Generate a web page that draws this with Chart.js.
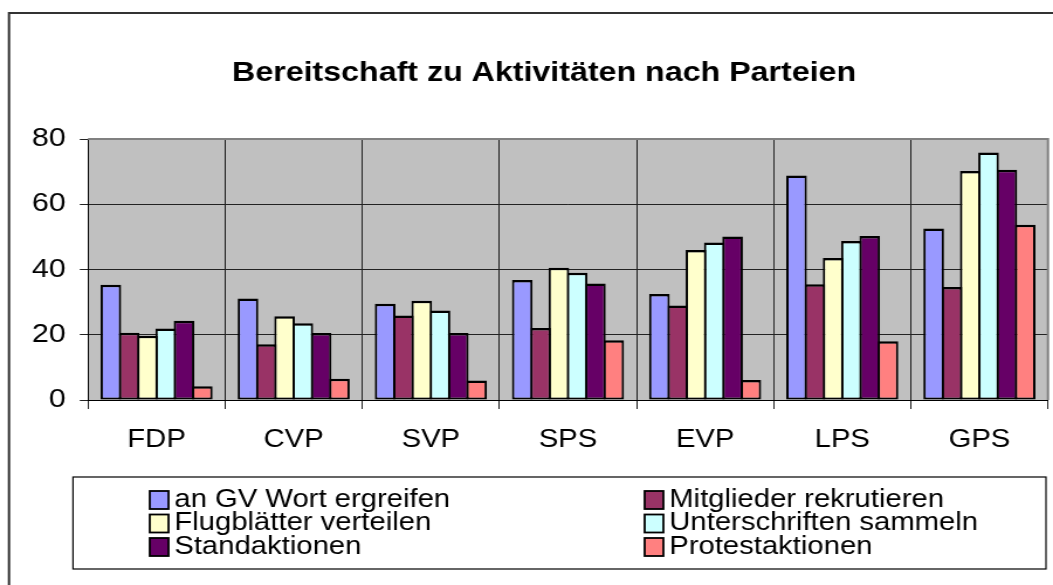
<!DOCTYPE html>
<html>
<head>
<meta charset="utf-8">
<script src="https://cdn.jsdelivr.net/npm/chart.js"></script>
<style>
  html, body { margin: 0; padding: 0; background: #fff; overflow: hidden; }
</style>
</head>
<body>
<!-- the original picture is stretched sideways, so the canvas is drawn 900 wide and widened to 1053 -->
<canvas id="chart" width="900" height="585" style="width:1053px;height:585px;display:block"></canvas>
<script>
const titel = 'Bereitschaft zu Aktivitäten nach Parteien';
const parteien = ['FDP', 'CVP', 'SVP', 'SPS', 'EVP', 'LPS', 'GPS'];

const wortErgreifen = [35.3, 31.1, 29.5, 36.8, 32.5, 68.8, 52.6];
const mitgliederRekrutieren = [20.6, 17.1, 25.9, 22.1, 29.0, 35.5, 34.6];
const flugblaetterVerteilen = [19.7, 25.7, 30.4, 40.5, 46.0, 43.5, 70.2];
const unterschriftenSammeln = [21.9, 23.5, 27.4, 39.0, 48.3, 48.7, 75.9];
const standaktionen = [24.3, 20.5, 20.5, 35.7, 50.1, 50.3, 70.6];
const protestaktionen = [4.2, 6.5, 6.0, 18.3, 6.1, 18.0, 53.7];

const yTicks = [0, 20, 40, 60, 80];

const font = 'Liberation Sans, Arial, sans-serif';

function serie(label, data, color) {
    return {
        label: label,
        data: data,
        backgroundColor: color,
        borderColor: '#000',
        borderWidth: {top: 2.5, bottom: 2, left: 2, right: 2},
        borderSkipped: false,
        categoryPercentage: 0.8,
        barPercentage: 1.128
    };
}

// grauer Hintergrund, Rahmen, Titel und Legende im Excel-Stil
const excelLook = {
    id: 'excelLook',
    beforeDraw(chart) {
        const ctx = chart.ctx;
        const a = chart.chartArea;
        ctx.save();
        ctx.fillStyle = '#fff';
        ctx.fillRect(0, 0, chart.width, chart.height);
        ctx.strokeStyle = '#333';
        ctx.lineWidth = 2;
        ctx.strokeRect(7.7, 13, 1000, 1000);
        ctx.fillStyle = '#C0C0C0';
        ctx.fillRect(a.left, a.top, a.right - a.left, a.bottom - a.top);
        ctx.restore();
    },
    afterDatasetsDraw(chart) {
        const ctx = chart.ctx;
        const a = chart.chartArea;
        ctx.save();
        ctx.strokeStyle = '#808080';
        ctx.lineWidth = 2;
        ctx.beginPath();
        ctx.moveTo(a.left, a.top);
        ctx.lineTo(a.right, a.top);
        ctx.lineTo(a.right, a.bottom);
        ctx.stroke();
        ctx.restore();
    },
    afterDraw(chart) {
        const ctx = chart.ctx;
        ctx.save();
        // Titel
        ctx.fillStyle = '#000';
        ctx.font = 'bold 27.5px ' + font;
        ctx.textAlign = 'center';
        ctx.textBaseline = 'middle';
        ctx.fillText(titel, 465, 73);
        // Legende
        ctx.strokeStyle = '#000';
        ctx.lineWidth = 1.2;
        ctx.strokeRect(62.4, 477, 831.6, 92);
        ctx.font = '25px ' + font;
        ctx.textAlign = 'left';
        chart.data.datasets.forEach((ds, i) => {
            const col = i % 2;
            const row = Math.floor(i / 2);
            const bx = col === 0 ? 128 : 551;
            const y = 500 + row * 23.5;
            ctx.fillStyle = ds.backgroundColor;
            ctx.fillRect(bx, y - 9, 16, 18);
            ctx.lineWidth = 1.8;
            ctx.strokeRect(bx, y - 9, 16, 18);
            ctx.fillStyle = '#000';
            ctx.fillText(ds.label, bx + 21, y);
        });
        ctx.restore();
    }
};

new Chart(document.getElementById('chart'), {
    type: 'bar',
    data: {
        labels: parteien,
        datasets: [
            serie('an GV Wort ergreifen', wortErgreifen, '#9999FF'),
            serie('Mitglieder rekrutieren', mitgliederRekrutieren, '#993366'),
            serie('Flugblätter verteilen', flugblaetterVerteilen, '#FFFFCC'),
            serie('Unterschriften sammeln', unterschriftenSammeln, '#CCFFFF'),
            serie('Standaktionen', standaktionen, '#660066'),
            serie('Protestaktionen', protestaktionen, '#FF8080')
        ]
    },
    options: {
        responsive: false,
        animation: false,
        devicePixelRatio: 1,
        layout: {padding: {left: 0, right: 4.3, top: 139, bottom: 115}},
        plugins: {
            legend: {display: false},
            tooltip: {enabled: false},
            title: {display: false}
        },
        scales: {
            x: {
                grid: {color: '#222', lineWidth: 1, offset: true, tickLength: 9, drawTicks: true},
                border: {color: '#000', width: 1},
                ticks: {color: '#000', font: {family: font, size: 25}, padding: 16, maxRotation: 0},
                afterFit(scale) { scale.height = 70; }
            },
            y: {
                min: 0,
                max: 80,
                afterBuildTicks(scale) { scale.ticks = yTicks.map(v => ({value: v})); },
                grid: {color: '#222', lineWidth: 1, tickLength: 7},
                border: {color: '#000', width: 1},
                ticks: {color: '#000', font: {family: font, size: 26}, padding: 12},
                afterFit(scale) { scale.width = 75.2; }
            }
        }
    },
    plugins: [excelLook]
});
</script>
</body>
</html>
